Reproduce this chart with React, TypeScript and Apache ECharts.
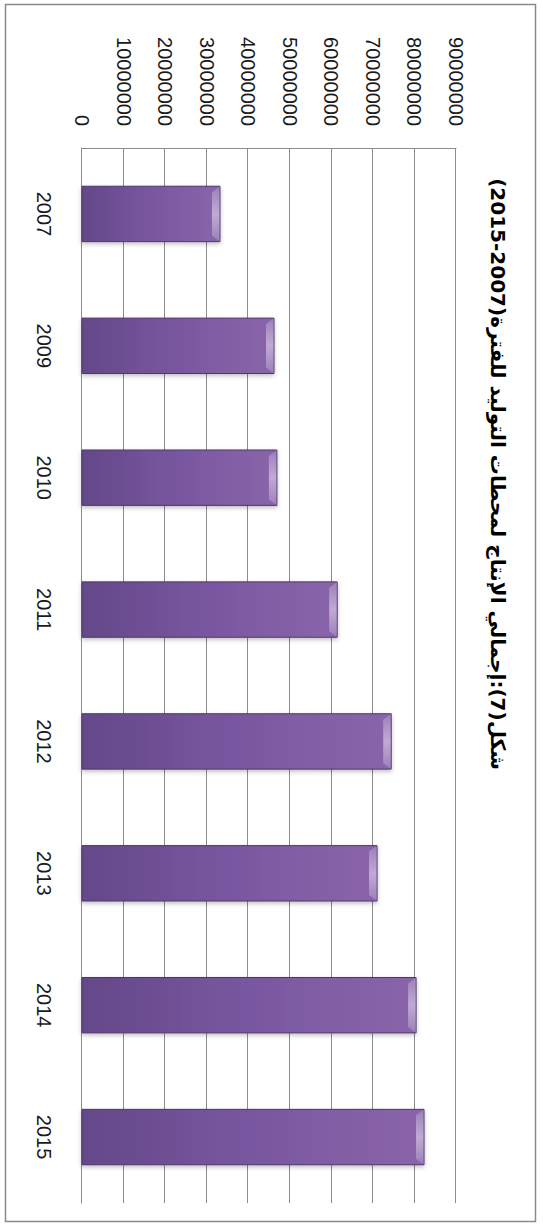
import React, { useEffect, useRef } from "react";
import * as echarts from "echarts";

const categories = ["2007", "2009", "2010", "2011", "2012", "2013", "2014", "2015"];
const values = [33200000, 46200000, 46900000, 61400000, 74400000, 71000000, 80400000, 82300000];
const valueTicks = [0, 10000000, 20000000, 30000000, 40000000, 50000000, 60000000, 70000000, 80000000, 90000000];
const titleText = "شكل(7):إجمالي الإنتاج لمحطات التوليد للفترة(2007-2015)";

const W = 1224;
const H = 543;

export default function App() {
  const ref = useRef<HTMLDivElement>(null);
  useEffect(() => {
    if (!ref.current) return;
    const chart = echarts.init(ref.current, null, { renderer: "svg", width: W, height: H });
    const bodyFill = new echarts.graphic.LinearGradient(0, 0, 0, 1, [
      { offset: 0, color: "#8a65aa" },
      { offset: 0.5, color: "#7957a0" },
      { offset: 1, color: "#644889" },
    ]);
    const bevelFill = new echarts.graphic.LinearGradient(0, 0, 1, 0, [
      { offset: 0, color: "#9c80ba" },
      { offset: 0.5, color: "#c0abd3" },
      { offset: 1, color: "#9c80ba" },
    ]);
    chart.setOption({
      animation: false,
      backgroundColor: "#ffffff",
      graphic: [
        {
          type: "rect",
          shape: { x: 4.5, y: 7.5, width: 1217, height: 530 },
          style: { fill: "none", stroke: "#8a8a8a", lineWidth: 1.5 },
          silent: true,
        },
        {
          type: "text",
          x: 474,
          y: 45,
          style: {
            text: "\u202B" + titleText + "\u202C",
            font: "bold 20px 'DejaVu Sans'",
            fill: "#000000",
            textAlign: "center",
            textVerticalAlign: "middle",
          },
        },
      ],
      grid: { left: 148, right: 21, top: 87, bottom: 82, containLabel: false, outerBoundsMode: "none" },
      xAxis: {
        type: "category",
        data: categories,
        axisLine: { show: true, lineStyle: { color: "#8c8c8c", width: 1 } },
        axisTick: { show: false },
        axisLabel: { color: "#1a1a1a", fontSize: 20, fontFamily: "'Liberation Sans', Arial", margin: 28 },
        splitLine: { show: false },
      },
      yAxis: {
        type: "value",
        min: valueTicks[0],
        max: valueTicks[valueTicks.length - 1],
        interval: valueTicks[1] - valueTicks[0],
        axisLine: { show: true, lineStyle: { color: "#8c8c8c", width: 1 } },
        axisTick: { show: false },
        axisLabel: {
          color: "#1a1a1a",
          fontSize: 20,
          fontFamily: "'Liberation Sans', Arial",
          margin: 22,
          formatter: (v: number) => String(v),
        },
        splitLine: { show: true, lineStyle: { color: "#8c8c8c", width: 1 } },
      },
      series: [
        {
          type: "custom",
          data: values.map((v, i) => [i, v]),
          encode: { x: 0, y: 1 },
          renderItem: (params: any, api: any) => {
            const i = api.value(0);
            const v = api.value(1);
            const top = api.coord([i, v]);
            const base = api.coord([i, 0]);
            const bw = api.size([1, 0])[0] * 0.42;
            const xL = top[0] - bw / 2;
            const xR = top[0] + bw / 2;
            const bev = 8;
            return {
              type: "group",
              children: [
                {
                  type: "rect",
                  shape: { x: xL, y: top[1], width: bw, height: base[1] - top[1] },
                  style: {
                    fill: bodyFill,
                    stroke: "#4e376b",
                    lineWidth: 1,
                    shadowBlur: 4,
                    shadowColor: "rgba(0,0,0,0.25)",
                    shadowOffsetX: 2,
                  },
                },
                {
                  type: "polygon",
                  shape: {
                    points: [
                      [xL + 0.5, top[1] + 0.5],
                      [xR - 0.5, top[1] + 0.5],
                      [xR - 6, top[1] + bev],
                      [xL + 6, top[1] + bev],
                    ],
                  },
                  style: { fill: bevelFill },
                },
              ],
            };
          },
        },
      ],
    });
    return () => chart.dispose();
  }, []);

  return (
    <div
      style={{
        position: "absolute",
        left: 0,
        top: 0,
        width: W,
        height: H,
        transformOrigin: "0 0",
        transform: `translateX(${H}px) rotate(90deg)`,
      }}
    >
      <div ref={ref} style={{ width: W, height: H }} />
    </div>
  );
}
